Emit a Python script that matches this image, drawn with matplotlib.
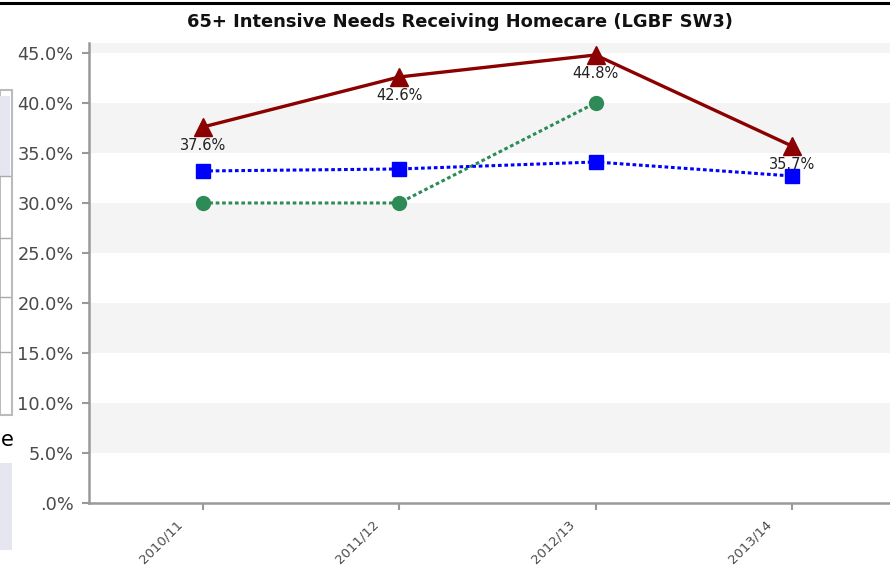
import numpy as np
import matplotlib.pyplot as plt
from matplotlib.patches import Rectangle
from matplotlib.lines import Line2D
from matplotlib.transforms import ScaledTranslation

years = ['2010/11', '2011/12', '2012/13', '2013/14']
red_vals = [37.6, 42.6, 44.8, 35.7]
blue_vals = [33.2, 33.4, 34.1, 32.7]
green_vals = [30.0, 30.0, 40.0, np.nan]
yticks = [0, 5, 10, 15, 20, 25, 30, 35, 40, 45]
ytick_labels = ['.0%', '5.0%', '10.0%', '15.0%', '20.0%', '25.0%', '30.0%',
                '35.0%', '40.0%', '45.0%']

fig = plt.figure(figsize=(8.9, 5.67), dpi=100)
ax = fig.add_axes([0.1, 0.1129, 0.9, 0.8113])

x = np.arange(len(years))

# alternating bands
for lo, hi in [(5, 10), (15, 20), (25, 30), (35, 40), (45, 46)]:
    ax.axhspan(lo, hi, color='#f4f4f4', zorder=0, lw=0)

ax.plot(x, red_vals, color='#8b0000', lw=2.4, marker='^', ms=13, zorder=3)
ax.plot(x, blue_vals, color='#0000ff', lw=2.2, ls=(0, (1.2, 0.9)),
        marker='s', ms=10, zorder=4)
ax.plot(x, green_vals, color='#2e8b57', lw=2.2, ls=(0, (1.2, 0.9)),
        marker='o', ms=10, zorder=2)

for xi, v in zip(x, red_vals):
    ax.annotate(f'{v:.1f}%', (xi, v), xytext=(0, -8), textcoords='offset points',
                ha='center', va='top', fontsize=10.5, color='#222222', zorder=5)

ax.set_xlim(-0.58, 3.5)
ax.set_ylim(0, 46)
ax.set_yticks(yticks)
ax.set_yticklabels(ytick_labels)
ax.set_xticks(x)
ax.set_xticklabels([])
shift = ScaledTranslation(-27 / 100, -15 / 100, fig.dpi_scale_trans)
for xi, lab in zip(x, years):
    ax.text(xi, 0, lab, transform=ax.get_xaxis_transform() + shift, rotation=45,
            ha='right', va='top', rotation_mode='anchor', fontsize=9.5,
            color='#4a4a4a', clip_on=False)

for s in ['top', 'right']:
    ax.spines[s].set_visible(False)
for s in ['left', 'bottom']:
    ax.spines[s].set_color('#999999')
    ax.spines[s].set_linewidth(1.8)
ax.tick_params(axis='y', colors='#999999', labelcolor='#4a4a4a', labelsize=12.8,
               length=5, width=1.5, pad=6)
ax.tick_params(axis='x', colors='#999999', length=5, width=1.5)

fig.text(0.517, 0.961, '65+ Intensive Needs Receiving Homecare (LGBF SW3)',
         ha='center', va='center', fontsize=12.9, fontweight='bold', color='#111111')

# screenshot edges
fig.add_artist(Line2D([0, 1], [0.994, 0.994], color='black', lw=2.2,
                      transform=fig.transFigure))
fig.add_artist(Rectangle((0, 1 - 415 / 567), 12 / 890, 325 / 567,
                         transform=fig.transFigure, facecolor='white',
                         edgecolor='#bbbbbb', lw=1.5))
fig.add_artist(Rectangle((0, 1 - 176 / 567), 10 / 890, 80 / 567,
                         transform=fig.transFigure, facecolor='#e6e6f0', lw=0))
for yy in [176, 238, 297, 352]:
    fig.add_artist(Line2D([0, 10 / 890], [1 - yy / 567] * 2, color='#aaaaaa', lw=1,
                          transform=fig.transFigure))
fig.text(0.001, 1 - 440 / 567, 'e', fontsize=15, ha='left', va='center', color='black')
fig.add_artist(Rectangle((0, 1 - 550 / 567), 12 / 890, 87 / 567,
                         transform=fig.transFigure, facecolor='#e6e6f0', lw=0))

fig.savefig('out.png', dpi=100)
